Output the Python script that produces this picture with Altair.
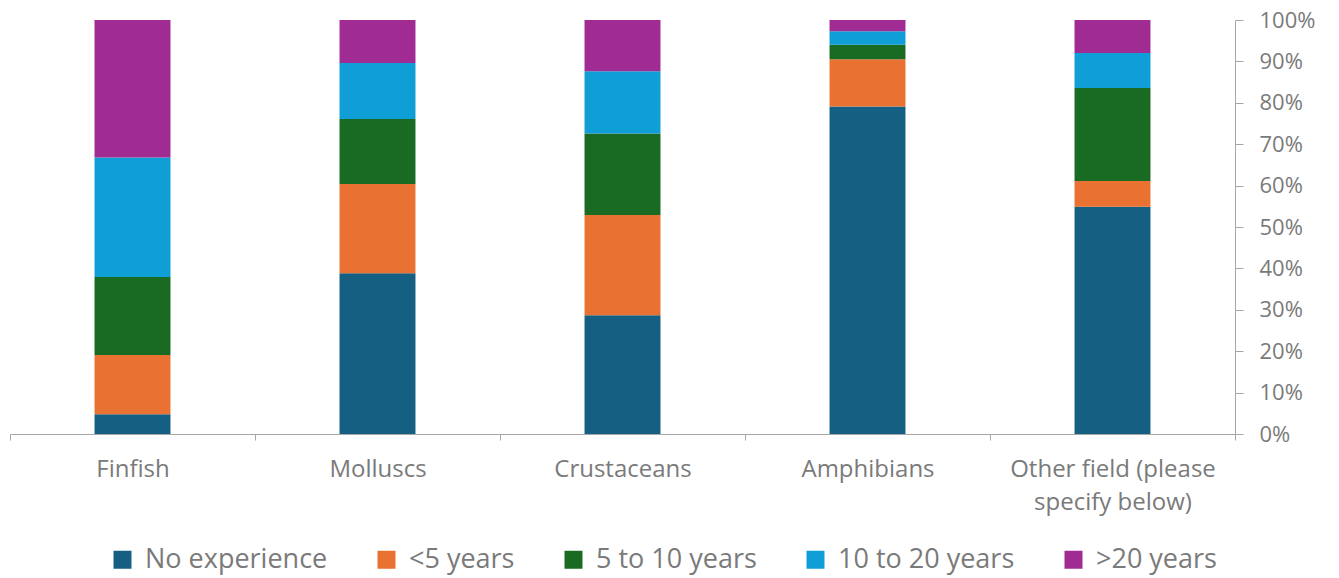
import altair as alt
import pandas as pd

categories = ["Finfish", "Molluscs", "Crustaceans", "Amphibians", "Other field (please specify below)"]
series = ["No experience", "<5 years", "5 to 10 years", "10 to 20 years", ">20 years"]
colors = ["#156082", "#E97132", "#196B24", "#0F9ED5", "#A02B93"]

no_experience = [4.8, 38.8, 28.7, 79.1, 54.9]
lt5 = [14.3, 21.6, 24.2, 11.4, 6.2]
y5_10 = [18.8, 15.7, 19.7, 3.5, 22.5]
y10_20 = [28.9, 13.5, 15.0, 3.3, 8.4]
gt20 = [33.2, 10.4, 12.4, 2.7, 8.0]

values = [no_experience, lt5, y5_10, y10_20, gt20]
rows = []
for si, (s, vals) in enumerate(zip(series, values)):
    for c, v in zip(categories, vals):
        rows.append({"category": c, "series": s, "value": v, "order": si})
df = pd.DataFrame(rows)

FONT = "Open Sans"
GRAY = "#7a7a7a"
AX = "#a6a6a6"

chart = alt.Chart(df).mark_bar(width=alt.RelativeBandSize(0.31)).encode(
    x=alt.X("category:N", sort=categories,
            scale=alt.Scale(paddingInner=0, paddingOuter=0),
            axis=alt.Axis(title=None, labelAngle=0, tickBand="extent",
                          labelExpr="datum.label == 'Other field (please specify below)' ? ['Other field (please', 'specify below)'] : datum.label",
                          labelFontSize=24, labelColor=GRAY, labelFont=FONT,
                          labelPadding=17, labelLineHeight=33, labelLimit=400,
                          domainColor=AX, tickColor=AX, tickSize=6, labelBaseline="top")),
    y=alt.Y("value:Q", stack="normalize",
            scale=alt.Scale(domain=[0, 1]),
            axis=alt.Axis(title=None, orient="right", format=".0%",
                          values=[i / 10 for i in range(11)],
                          labelFontSize=22, labelColor=GRAY, labelFont=FONT,
                          labelPadding=16, domainColor=AX, tickColor=AX, tickSize=8,
                          grid=False)),
    color=alt.Color("series:N", sort=series,
                    scale=alt.Scale(domain=series, range=colors),
                    legend=alt.Legend(title=None, orient="none", direction="horizontal",
                                      legendX=99, legendY=526,
                                      symbolType="square", symbolSize=324,
                                      symbolStrokeWidth=0,
                                      labelFontSize=27, labelColor=GRAY, labelFont=FONT,
                                      labelOffset=9, columnPadding=45,
                                      labelLimit=400)),
    order=alt.Order("order:Q"),
).properties(
    width=1225, height=414,
    autosize=alt.AutoSizeParams(type="none"),
    padding={"left": 10, "top": 20, "right": 104, "bottom": 144},
).configure(background="white").configure_view(strokeWidth=0, stroke="transparent")

chart.save("out.html", embed_options={"renderer": "svg", "actions": False})
